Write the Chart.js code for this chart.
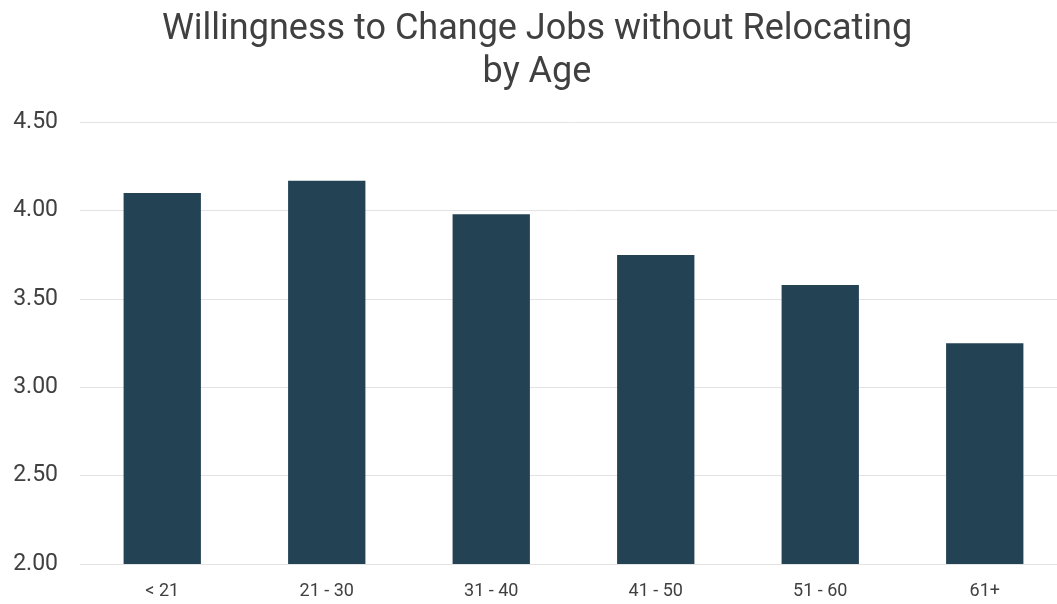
<!DOCTYPE html>
<html>
<head>
<meta charset="utf-8">
<script src="https://cdn.jsdelivr.net/npm/chart.js@4.4.0/dist/chart.umd.min.js"></script>
<style>
  html, body { margin: 0; padding: 0; background: #fff; overflow: hidden; }
  .wrap { position: relative; width: 1086px; height: 604px; }
</style>
</head>
<body>
<div class="wrap"><canvas id="chart"></canvas></div>
<script>
// chart data
const categories = ['< 21', '21 - 30', '31 - 40', '41 - 50', '51 - 60', '61+'];
const scores = [4.10, 4.17, 3.98, 3.75, 3.58, 3.25];
const titleLines = ['Willingness to Change Jobs without Relocating', 'by Age'];
const yMin = 2.0, yMax = 4.5, yStep = 0.5;

const FONT = "Roboto, 'Noto Sans', sans-serif";

new Chart(document.getElementById('chart').getContext('2d'), {
  type: 'bar',
  data: {
    labels: categories,
    datasets: [{
      data: scores,
      backgroundColor: '#234254',
      borderWidth: 0,
      barPercentage: 0.47,
      categoryPercentage: 1.0,
    }]
  },
  options: {
    responsive: true,
    maintainAspectRatio: false,
    animation: false,
    layout: { padding: { left: 7, right: 19, top: 0, bottom: 0 } },
    plugins: {
      legend: { display: false },
      tooltip: { enabled: false },
      title: {
        display: true,
        text: titleLines,
        color: '#404040',
        font: { family: FONT, size: 36, weight: '400', lineHeight: 1.2 },
        padding: { top: 8, bottom: 28 },
      }
    },
    scales: {
      x: {
        grid: { display: false, drawTicks: false },
        border: { display: false },
        ticks: { color: '#404040', font: { family: FONT, size: 18 }, padding: 17 },
        afterFit: (s) => { s.height = 40; }
      },
      y: {
        min: yMin, max: yMax,
        grid: { color: '#e3e3e3', lineWidth: 1, drawTicks: false },
        border: { display: false },
        ticks: {
          stepSize: yStep,
          color: '#404040',
          font: { family: FONT, size: 23 },
          padding: 22,
          callback: (v) => Number(v).toFixed(2)
        },
        afterFit: (s) => { s.width = 73; }
      }
    }
  }
});
</script>
</body>
</html>
